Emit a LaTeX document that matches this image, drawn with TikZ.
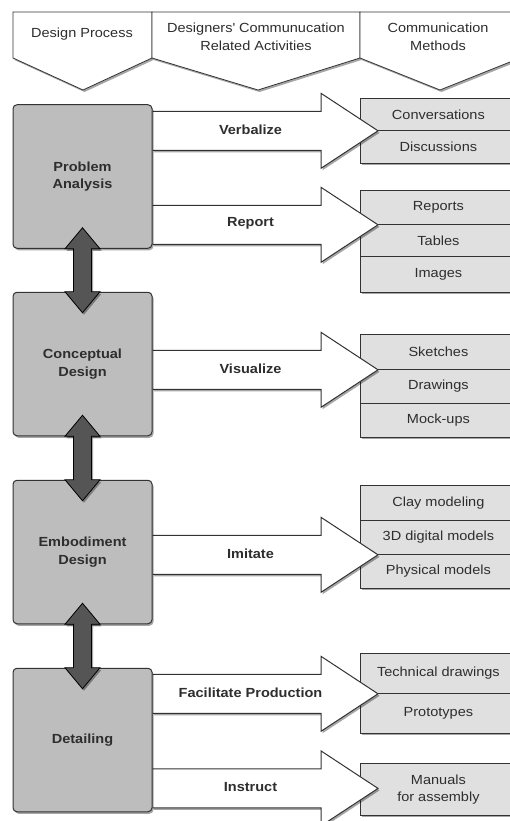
\documentclass[tikz,border=0pt]{standalone}
\usepackage{fontspec}
\setmainfont{Liberation Sans}[FakeStretch=1.1]
\usetikzlibrary{calc,shadows}
\definecolor{boxgray}{HTML}{BDBDBD}
\definecolor{methgray}{HTML}{E0E0E0}
\definecolor{dblgray}{HTML}{555555}
\definecolor{linec}{HTML}{333333}
\pgfdeclarelayer{bg}
\pgfsetlayers{bg,main}
\newcommand\blockarrow[3]{%
  \draw[blockarr] ($(#1.east |- #2)+(0,-19.5)$) -- ($(#2)+(-57,-19.5)$) -- ($(#2)+(-57,-37.5)$) -- (#2)
     -- ($(#2)+(-57,37.5)$) -- ($(#2)+(-57,19.5)$) -- ($(#1.east |- #2)+(0,19.5)$);
  \node[actlabel] (lab-#2) at ($(#1.east |- #2)+(98,-1)$) {#3};
}
\newcommand\dblarrow[2]{%
  \draw[dblarr] ($(#1.south)+(0,-21)$) -- ($(#1.south)+(17.5,0)$) -- ($(#1.south)+(9,0)$)
     -- ($(#2.north)+(9,0)$) -- ($(#2.north)+(17.5,0)$) -- ($(#2.north)+(0,21)$)
     -- ($(#2.north)+(-17.5,0)$) -- ($(#2.north)+(-9,0)$) -- ($(#1.south)+(-9,0)$)
     -- ($(#1.south)+(-17.5,0)$) -- cycle;
}
\begin{document}
\begin{tikzpicture}[x=1pt,y=-1pt,
  every node/.style={font=\fontsize{13.2}{17.5}\selectfont, text=black!82, align=center, inner sep=0pt},
  boxshadow/.style={drop shadow={shadow xshift=1.5pt, shadow yshift=-2pt, opacity=0.35, fill=black}},
  phase/.style={draw=linec, line width=1pt, fill=boxgray, rounded corners=4pt, minimum width=139pt,
     minimum height=143.5pt, font=\fontsize{13.2}{17.5}\selectfont\bfseries, boxshadow},
  method/.style={draw=linec, line width=0.8pt, fill=methgray, minimum width=156pt, anchor=north west},
  blockarr/.style={draw=linec, line width=1pt, fill=white, boxshadow},
  dblarr/.style={draw=black, line width=0.8pt, fill=dblgray, boxshadow},
  header/.style={draw=linec, line width=0.8pt, fill=white, boxshadow},
  actlabel/.style={font=\fontsize{13.2}{17.5}\selectfont\bfseries}
]
\useasboundingbox (0,0) rectangle (510,821);
\clip (0,0) rectangle (510,821);

% header
\draw[header] (13,12) -- (152,12) -- (152,58) -- (83,90) -- (13,58) -- cycle;
\draw[header] (152,12) -- (360,12) -- (360,58) -- (258,90) -- (152,58) -- cycle;
\draw[header] (360,12) -- (520,12) -- (520,58) -- (440,90) -- (360,58) -- cycle;
\node (h1) at (82,34.5) {Design Process};
\node (h2) at (256,37) {Designers\textquotesingle\ Communucation\\Related Activities};
\node (h3) at (438,37) {Communication\\Methods};

% phases
\node[phase] (pa) at (82.5,176.5) {Problem\\Analysis};
\node[phase] (cd) at (82.5,364) {Conceptual\\Design};
\node[phase] (ed) at (82.5,552) {Embodiment\\Design};
\node[phase] (dt) at (82.5,740) {Detailing};

\begin{pgfonlayer}{bg}
\clip (0,0) rectangle (510,821);
\fill[white] (0,0) rectangle (510,821);
% methods
\node[method, minimum height=32pt, boxshadow] (conv) at (360,98) {Conversations};
\node[method, minimum height=33pt, boxshadow] (disc) at (360,130) {Discussions};
\node[method, minimum height=34pt, boxshadow] (rep) at (360,190) {Reports};
\node[method, minimum height=32pt, boxshadow] (tab) at (360,224) {Tables};
\node[method, minimum height=36pt, boxshadow] (img) at (360,256) {Images};
\node[method, minimum height=35pt, boxshadow] (ske) at (360,334) {Sketches};
\node[method, minimum height=34pt, boxshadow] (drw) at (360,369) {Drawings};
\node[method, minimum height=34pt, boxshadow] (mock) at (360,403) {Mock-ups};
\node[method, minimum height=35pt, boxshadow] (clay) at (360,485) {Clay modeling};
\node[method, minimum height=34pt, boxshadow] (dig) at (360,520) {3D digital models};
\node[method, minimum height=34pt, boxshadow] (phys) at (360,554) {Physical models};
\node[method, minimum height=40pt, boxshadow] (tech) at (360,653) {Technical drawings};
\node[method, minimum height=40pt, boxshadow] (proto) at (360,693) {Prototypes};
\node[method, minimum height=52pt, boxshadow] (man) at (360,763) {Manuals\\for assembly};

% arrow tips
\coordinate (tv) at ($(conv.south west)+(18,0)$);
\coordinate (tr) at ($(rep.south west)+(18,0)$);
\coordinate (tz) at ($(ske.south west)+(18,0)$);
\coordinate (ti) at ($(dig.south west)+(18,0)$);
\coordinate (tf) at ($(tech.south west)+(18,0)$);
\coordinate (tn) at ($(man.west)+(18,-1)$);

\blockarrow{pa}{tv}{Verbalize}
\blockarrow{pa}{tr}{Report}
\blockarrow{cd}{tz}{Visualize}
\blockarrow{ed}{ti}{Imitate}
\blockarrow{dt}{tf}{Facilitate Production}
\blockarrow{dt}{tn}{Instruct}
\end{pgfonlayer}

% double arrows
\dblarrow{pa}{cd}
\dblarrow{cd}{ed}
\dblarrow{ed}{dt}
\end{tikzpicture}
\end{document}
